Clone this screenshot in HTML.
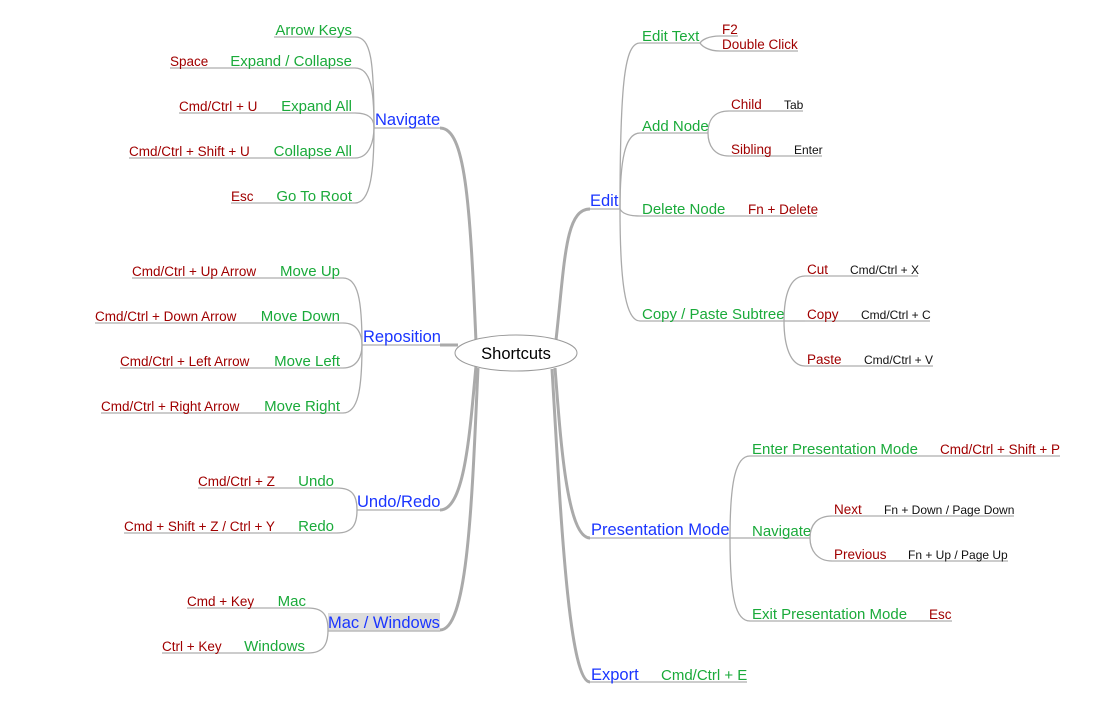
<!DOCTYPE html>
<html><head><meta charset="utf-8"><style>
html,body{margin:0;padding:0;background:#fff;}
svg{display:block;font-family:"Liberation Sans",Arial,sans-serif;}
.b{fill:#1a35ff;font-size:16.5px}
.g{fill:#1aaa3a;font-size:15px}
.r{fill:#a00000;font-size:13.5px}
.k{fill:#111;font-size:12px}
.u{stroke:#bbb;stroke-width:1.5;fill:none}
.c{stroke:#aaa;stroke-width:1.3;fill:none}
.t{stroke:#aaa;stroke-width:3;fill:none}
</style></head><body>
<svg width="1099" height="727" viewBox="0 0 1099 727">
<path class="t" d="M440,128 C465,128 470,200 476,342"/>
<path class="t" d="M440,345 L458,345"/>
<path class="t" d="M440,510 C465,510 470,430 476,366"/>
<path class="t" d="M440,630 C468,630 472,500 478,368"/>
<path class="t" d="M590,209 C565,209 565,260 556,340"/>
<path class="t" d="M590,538 C566,538 560,430 555,368"/>
<path class="t" d="M590,682 C568,682 560,500 552,369"/>
<ellipse cx="516" cy="353" rx="61" ry="18" fill="#fff" stroke="#999" stroke-width="1"/>
<text x="516" y="359" text-anchor="middle" font-size="16.5" fill="#000">Shortcuts</text>

<line class="u" x1="374" y1="128" x2="440" y2="128"/>
<text class="b" x="375" y="125">Navigate</text>
<path class="c" d="M355,37 C371,37 374,60 374,127"/>
<path class="c" d="M355,68 C371,68 374,90 374,127"/>
<path class="c" d="M355,113 C370,113 374,120 374,127"/>
<path class="c" d="M355,158 C370,158 374,140 374,127"/>
<path class="c" d="M355,203 C371,203 374,170 374,127"/>
<line class="u" x1="274" y1="37" x2="355" y2="37"/><text class="g" x="352" y="35" text-anchor="end">Arrow Keys</text>
<line class="u" x1="170" y1="68" x2="355" y2="68"/><text class="g" x="352" y="66" text-anchor="end">Expand / Collapse</text><text class="r" x="170" y="66">Space</text>
<line class="u" x1="179" y1="113" x2="355" y2="113"/><text class="g" x="352" y="111" text-anchor="end">Expand All</text><text class="r" x="179" y="111">Cmd/Ctrl + U</text>
<line class="u" x1="129" y1="158" x2="355" y2="158"/><text class="g" x="352" y="156" text-anchor="end">Collapse All</text><text class="r" x="129" y="156">Cmd/Ctrl + Shift + U</text>
<line class="u" x1="231" y1="203" x2="355" y2="203"/><text class="g" x="352" y="201" text-anchor="end">Go To Root</text><text class="r" x="231" y="201">Esc</text>

<line class="u" x1="362" y1="345" x2="440" y2="345"/>
<text class="b" x="363" y="342">Reposition</text>
<path class="c" d="M343,278 C358,278 362,300 362,345"/>
<path class="c" d="M343,323 C358,323 362,335 362,345"/>
<path class="c" d="M343,368 C358,368 362,355 362,345"/>
<path class="c" d="M343,413 C358,413 362,390 362,345"/>
<line class="u" x1="132" y1="278" x2="343" y2="278"/><text class="g" x="340" y="276" text-anchor="end">Move Up</text><text class="r" x="132" y="276">Cmd/Ctrl + Up Arrow</text>
<line class="u" x1="95" y1="323" x2="343" y2="323"/><text class="g" x="340" y="321" text-anchor="end">Move Down</text><text class="r" x="95" y="321">Cmd/Ctrl + Down Arrow</text>
<line class="u" x1="120" y1="368" x2="343" y2="368"/><text class="g" x="340" y="366" text-anchor="end">Move Left</text><text class="r" x="120" y="366">Cmd/Ctrl + Left Arrow</text>
<line class="u" x1="101" y1="413" x2="343" y2="413"/><text class="g" x="340" y="411" text-anchor="end">Move Right</text><text class="r" x="101" y="411">Cmd/Ctrl + Right Arrow</text>

<line class="u" x1="357" y1="510" x2="440" y2="510"/>
<text class="b" x="357" y="507">Undo/Redo</text>
<path class="c" d="M337,488 C352,488 357,495 357,510"/>
<path class="c" d="M337,533 C352,533 357,525 357,510"/>
<line class="u" x1="198" y1="488" x2="337" y2="488"/><text class="g" x="334" y="486" text-anchor="end">Undo</text><text class="r" x="198" y="486">Cmd/Ctrl + Z</text>
<line class="u" x1="124" y1="533" x2="337" y2="533"/><text class="g" x="334" y="531" text-anchor="end">Redo</text><text class="r" x="124" y="531">Cmd + Shift + Z / Ctrl + Y</text>

<rect x="328" y="613" width="112" height="18" fill="#ddd"/>
<line class="u" x1="328" y1="631" x2="440" y2="631"/>
<text class="b" x="328" y="628">Mac / Windows</text>
<path class="c" d="M308,608 C323,608 328,615 328,630"/>
<path class="c" d="M308,653 C323,653 328,645 328,630"/>
<line class="u" x1="187" y1="608" x2="308" y2="608"/><text class="g" x="306" y="606" text-anchor="end">Mac</text><text class="r" x="187" y="606">Cmd + Key</text>
<line class="u" x1="162" y1="653" x2="308" y2="653"/><text class="g" x="305" y="651" text-anchor="end">Windows</text><text class="r" x="162" y="651">Ctrl + Key</text>

<line class="u" x1="590" y1="209" x2="620" y2="209"/>
<text class="b" x="590" y="206">Edit</text>
<path class="c" d="M640,43 C625,43 620,80 620,209"/>
<path class="c" d="M640,133 C625,133 620,160 620,209"/>
<path class="c" d="M640,216 C628,216 622,213 620,209"/>
<path class="c" d="M640,321 C625,321 620,280 620,209"/>
<line class="u" x1="640" y1="43" x2="700" y2="43"/><text class="g" x="642" y="41">Edit Text</text>
<path class="c" d="M720,36 C708,36 702,40 700,43"/>
<path class="c" d="M720,51 C708,51 702,46 700,43"/>
<line class="u" x1="720" y1="36" x2="738" y2="36"/><text class="r" x="722" y="34" font-size="12.5">F2</text>
<line class="u" x1="720" y1="51" x2="798" y2="51"/><text class="r" x="722" y="49" font-size="12.5">Double Click</text>
<line class="u" x1="640" y1="133" x2="708" y2="133"/><text class="g" x="642" y="131">Add Node</text>
<path class="c" d="M729,111 C714,111 708,120 708,133"/>
<path class="c" d="M729,156 C714,156 708,145 708,133"/>
<line class="u" x1="729" y1="111" x2="803" y2="111"/><text class="r" x="731" y="109">Child</text><text class="k" x="784" y="109">Tab</text>
<line class="u" x1="729" y1="156" x2="822" y2="156"/><text class="r" x="731" y="154">Sibling</text><text class="k" x="794" y="154">Enter</text>
<line class="u" x1="640" y1="216" x2="817" y2="216"/><text class="g" x="642" y="214">Delete Node</text><text class="r" x="748" y="214">Fn + Delete</text>
<line class="u" x1="640" y1="321" x2="784" y2="321"/><text class="g" x="642" y="319">Copy / Paste Subtree</text>
<path class="c" d="M805,276 C790,276 784,295 784,321"/>
<path class="c" d="M805,321 L784,321"/>
<path class="c" d="M805,366 C790,366 784,345 784,321"/>
<line class="u" x1="805" y1="276" x2="918" y2="276"/><text class="r" x="807" y="274">Cut</text><text class="k" x="850" y="274">Cmd/Ctrl + X</text>
<line class="u" x1="805" y1="321" x2="930" y2="321"/><text class="r" x="807" y="319">Copy</text><text class="k" x="861" y="319">Cmd/Ctrl + C</text>
<line class="u" x1="805" y1="366" x2="933" y2="366"/><text class="r" x="807" y="364">Paste</text><text class="k" x="864" y="364">Cmd/Ctrl + V</text>

<line class="u" x1="590" y1="538" x2="730" y2="538"/>
<text class="b" x="591" y="535">Presentation Mode</text>
<path class="c" d="M750,456 C736,456 730,480 730,538"/>
<path class="c" d="M750,538 L730,538"/>
<path class="c" d="M750,621 C736,621 730,600 730,538"/>
<line class="u" x1="750" y1="456" x2="1060" y2="456"/><text class="g" x="752" y="454">Enter Presentation Mode</text><text class="r" x="940" y="454">Cmd/Ctrl + Shift + P</text>
<line class="u" x1="750" y1="538" x2="810" y2="538"/><text class="g" x="752" y="536">Navigate</text>
<path class="c" d="M832,516 C817,516 810,525 810,538"/>
<path class="c" d="M832,561 C817,561 810,550 810,538"/>
<line class="u" x1="832" y1="516" x2="1014" y2="516"/><text class="r" x="834" y="514">Next</text><text class="k" x="884" y="514">Fn + Down / Page Down</text>
<line class="u" x1="832" y1="561" x2="1008" y2="561"/><text class="r" x="834" y="559">Previous</text><text class="k" x="908" y="559">Fn + Up / Page Up</text>
<line class="u" x1="750" y1="621" x2="952" y2="621"/><text class="g" x="752" y="619">Exit Presentation Mode</text><text class="r" x="929" y="619">Esc</text>

<line class="u" x1="590" y1="682" x2="747" y2="682"/>
<text class="b" x="591" y="680">Export</text><text class="g" x="661" y="680">Cmd/Ctrl + E</text>
</svg>
</body></html>
